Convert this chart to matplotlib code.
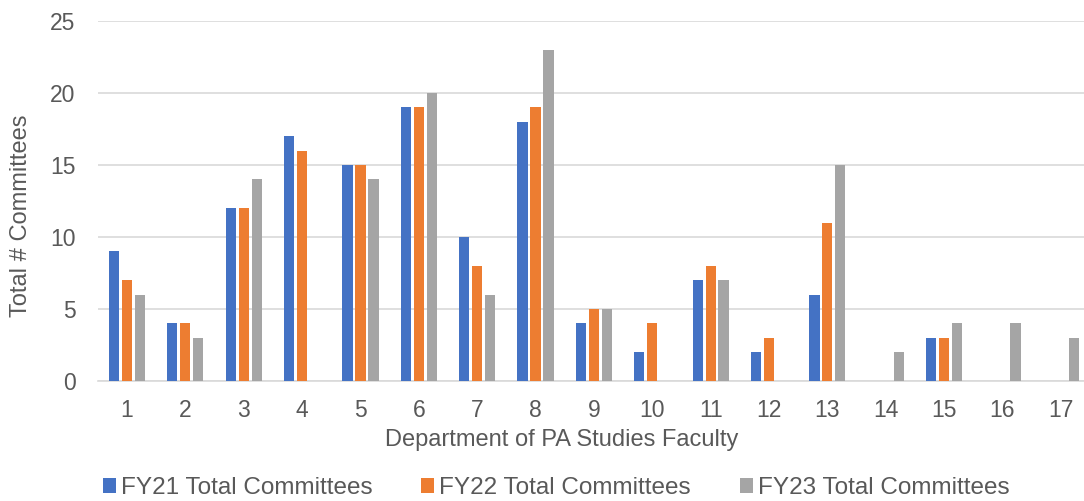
import matplotlib

matplotlib.use("Agg")

import matplotlib.pyplot as plt  # noqa: E402
import numpy as np  # noqa: E402

faculty = [str(i) for i in range(1, 18)]
fy21 = [9, 4, 12, 17, 15, 19, 10, 18, 4, 2, 7, 2, 6, 0, 3, 0, 0]
fy22 = [7, 4, 12, 16, 15, 19, 8, 19, 5, 4, 8, 3, 11, 0, 3, 0, 0]
fy23 = [6, 3, 14, 0, 14, 20, 6, 23, 5, 0, 7, 0, 15, 2, 4, 4, 3]
series_names = ["FY21 Total Committees", "FY22 Total Committees", "FY23 Total Committees"]
y_ticks = [0, 5, 10, 15, 20, 25]

COLORS = ["#4472C4", "#ED7D31", "#A5A5A5"]
TEXT = "#595959"
GRID = "#D9D9D9"

plt.rcParams["font.family"] = ["Liberation Sans", "DejaVu Sans"]

W, H = 1084, 501
fig = plt.figure(figsize=(W / 100, H / 100), dpi=100)
ax = fig.add_axes([97.8 / W, (H - 381) / H, (1090 - 97.8) / W, 360 / H])

x = np.arange(len(faculty))
step = 0.222
width = 0.175
for i, (vals, name) in enumerate(zip([fy21, fy22, fy23], series_names)):
    ax.bar(x + (i - 1) * step, vals, width=width, color=COLORS[i], label=name, zorder=3)

ax.set_xlim(-0.5, len(faculty) - 0.5)
ax.set_ylim(0, 25)
ax.set_yticks(y_ticks)
ax.set_xticks(x)
ax.set_xticklabels(faculty)
ax.grid(axis="y", color=GRID, linewidth=1.2, zorder=0)
for side in ["top", "right", "left"]:
    ax.spines[side].set_visible(False)
ax.spines["bottom"].set_color(GRID)
ax.spines["bottom"].set_linewidth(1.2)
ax.tick_params(axis="both", length=0, labelsize=16.5, colors=TEXT)
ax.tick_params(axis="y", pad=16)
ax.tick_params(axis="x", pad=13)

fig.text(21 / W, 1 - 216 / H, "Total # Committees", rotation=90, ha="center", va="center",
         fontsize=17, color=TEXT)
fig.text(562 / W, 1 - 440 / H, "Department of PA Studies Faculty", ha="center", va="center",
         fontsize=17, color=TEXT)

fig.legend(loc="center", bbox_to_anchor=(556 / W, 1 - 488 / H), ncol=3, frameon=False,
           fontsize=17.5, labelcolor=TEXT, handlelength=0.55, handleheight=0.55,
           handletextpad=0.2, columnspacing=2.0, borderpad=0, borderaxespad=0)

fig.savefig("out.png", dpi=100)
